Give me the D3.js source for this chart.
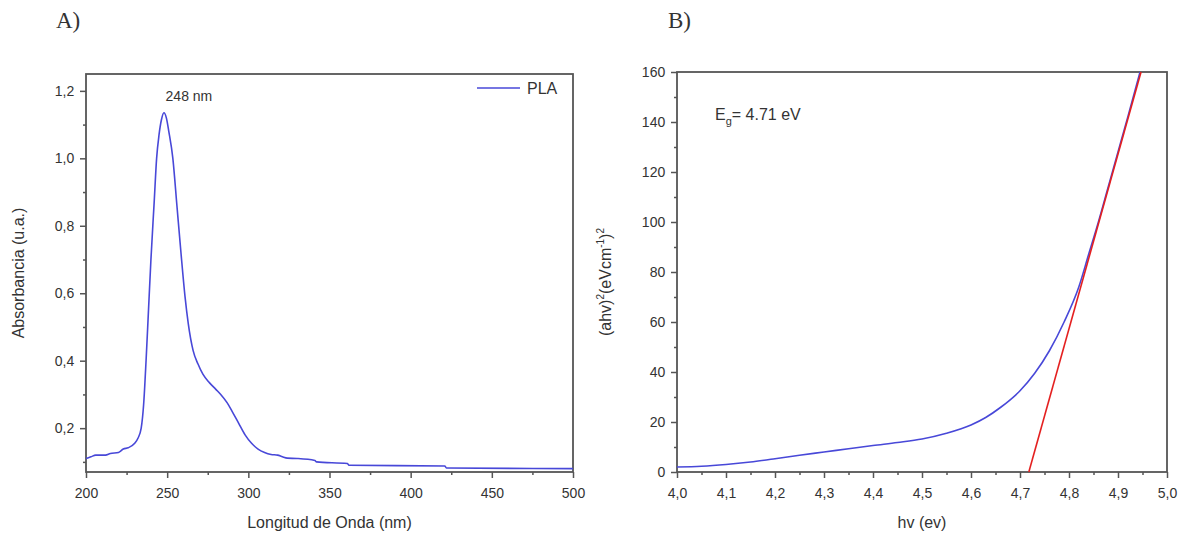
<!DOCTYPE html>
<html>
<head>
<meta charset="utf-8">
<script src="https://cdn.jsdelivr.net/npm/d3@7"></script>
<style>
  body { margin: 0; background: #fff; }
  svg text { font-family: "Liberation Sans", Arial, sans-serif; fill: #333; }
</style>
</head>
<body>
<div id="chart"></div>
<script>
// Panel A: UV-Vis absorbance of PLA
var wavelength = [200, 203, 206, 212, 215, 220, 223, 226, 230, 232, 234, 235.5, 237, 238.5, 240, 242, 243.5, 245, 246.5, 248, 249.5, 251, 253.5, 256, 258.5, 261, 263, 266, 269, 272, 276, 280, 283, 287, 290, 294, 298, 302, 306, 310, 314, 318, 321, 324, 330, 341, 342, 361, 362, 421, 422, 500];
var absorbance = [0.11, 0.115, 0.12, 0.12, 0.125, 0.128, 0.138, 0.142, 0.155, 0.17, 0.2, 0.27, 0.4, 0.55, 0.7, 0.87, 1.0, 1.07, 1.115, 1.135, 1.12, 1.08, 1.0, 0.86, 0.72, 0.59, 0.51, 0.43, 0.39, 0.36, 0.335, 0.315, 0.3, 0.275, 0.25, 0.215, 0.18, 0.155, 0.138, 0.128, 0.122, 0.12, 0.115, 0.111, 0.11, 0.104, 0.1, 0.095, 0.09, 0.088, 0.082, 0.08];
var xTicksA = [200, 250, 300, 350, 400, 450, 500];
var yTicksA = [0.2, 0.4, 0.6, 0.8, 1.0, 1.2];

// Panel B: Tauc plot
var energy = [4.00, 4.05, 4.10, 4.15, 4.20, 4.25, 4.30, 4.35, 4.40, 4.45, 4.50, 4.55, 4.60, 4.63, 4.66, 4.70, 4.73, 4.76, 4.79, 4.82, 4.84, 4.86, 4.88, 4.90, 4.92, 4.945];
var tauc = [2.0, 2.3, 3.0, 4.0, 5.3, 6.7, 8.0, 9.3, 10.6, 11.8, 13.2, 15.5, 18.8, 21.8, 25.8, 32.5, 39.5, 48.5, 60, 74, 87, 100, 114, 128, 142, 160];
var fitEnergy = [4.718, 4.947];
var fitTauc = [0, 160];
var xTicksB = [4.0, 4.1, 4.2, 4.3, 4.4, 4.5, 4.6, 4.7, 4.8, 4.9, 5.0];
var yTicksB = [0, 20, 40, 60, 80, 100, 120, 140, 160];

var svg = d3.select("#chart").append("svg").attr("width", 1187).attr("height", 537);
var comma = d => d3.format(".1f")(d).replace(".", ",");

function drawAxes(g, x, y, w, h, xTicks, yTicks, xMinor, yMinor, xFmt, yFmt) {
    var axisColor = "#555";
    g.append("rect").attr("width", w).attr("height", h).attr("fill", "none").attr("stroke", axisColor).attr("stroke-width", 1.8);

    var xa = g.append("g").attr("transform", `translate(0,${h})`)
        .call(d3.axisBottom(x).tickValues(xTicks).tickFormat(xFmt).tickSize(6).tickSizeOuter(0));
    var xm = g.append("g").attr("transform", `translate(0,${h})`)
        .call(d3.axisBottom(x).tickValues(xMinor).tickFormat("").tickSize(3).tickSizeOuter(0));
    var ya = g.append("g")
        .call(d3.axisLeft(y).tickValues(yTicks).tickFormat(yFmt).tickSize(6).tickSizeOuter(0));
    var ym = g.append("g")
        .call(d3.axisLeft(y).tickValues(yMinor).tickFormat("").tickSize(3).tickSizeOuter(0));
    [xa, xm, ya, ym].forEach(a => {
        a.select(".domain").remove();
        a.selectAll("line").attr("stroke", axisColor).attr("stroke-width", 1.5);
        a.selectAll("text").attr("font-size", 14).attr("fill", "#3a3a3a").style("font-family", "'Liberation Sans', Arial, sans-serif");
    });
    xa.selectAll("text").attr("dy", "1.2em");
    ya.selectAll("text").attr("dx", "-0.2em");
}

// ---------- Panel A ----------
var mA = {left: 86, top: 74, w: 487, h: 398};
var xA = d3.scaleLinear().domain([200, 500]).range([0, mA.w]);
var yA = d3.scaleLinear().domain([0.07, 1.25]).range([mA.h, 0]);
var gA = svg.append("g").attr("transform", `translate(${mA.left},${mA.top})`);

drawAxes(gA, xA, yA, mA.w, mA.h, xTicksA, yTicksA,
    [225, 275, 325, 375, 425, 475], [0.1, 0.3, 0.5, 0.7, 0.9, 1.1],
    d3.format("d"), comma);

var lineA = d3.line().x((d, i) => xA(wavelength[i])).y(d => yA(d)).curve(d3.curveMonotoneX);
gA.append("path").datum(absorbance).attr("d", lineA).attr("fill", "none").attr("stroke", "#4848d8").attr("stroke-width", 1.6);

gA.append("text").attr("x", xA(248) + 25).attr("y", 27).attr("text-anchor", "middle").attr("font-size", 14).text("248 nm");

gA.append("line").attr("x1", 391).attr("x2", 434).attr("y1", 14).attr("y2", 14).attr("stroke", "#4848d8").attr("stroke-width", 1.6);
gA.append("text").attr("x", 441).attr("y", 20).attr("font-size", 16).text("PLA");

svg.append("text").attr("x", mA.left + mA.w / 2).attr("y", 528).attr("text-anchor", "middle").attr("font-size", 16).text("Longitud de Onda (nm)");
svg.append("text").attr("transform", `translate(24,${mA.top + mA.h / 2}) rotate(-90)`).attr("text-anchor", "middle").attr("font-size", 16).text("Absorbancia (u.a.)");
svg.append("text").attr("x", 56).attr("y", 28).attr("font-size", 23).style("font-family", "'Liberation Serif', 'Times New Roman', serif").attr("fill", "#111").text("A)");

// ---------- Panel B ----------
var mB = {left: 677, top: 72, w: 490, h: 400};
var xB = d3.scaleLinear().domain([4.0, 5.0]).range([0, mB.w]);
var yB = d3.scaleLinear().domain([0, 160]).range([mB.h, 0]);
var gB = svg.append("g").attr("transform", `translate(${mB.left},${mB.top})`);

drawAxes(gB, xB, yB, mB.w, mB.h, xTicksB, yTicksB,
    d3.range(4.05, 5.0, 0.1), d3.range(10, 160, 20),
    comma, d3.format("d"));

var lineB = d3.line().x((d, i) => xB(energy[i])).y(d => yB(d)).curve(d3.curveMonotoneX);
gB.append("path").datum(tauc).attr("d", lineB).attr("fill", "none").attr("stroke", "#4848d8").attr("stroke-width", 1.6);

var fitLine = d3.line().x((d, i) => xB(fitEnergy[i])).y(d => yB(d));
gB.append("path").datum(fitTauc).attr("d", fitLine).attr("fill", "none").attr("stroke", "#e42020").attr("stroke-width", 1.6);

var eg = gB.append("text").attr("x", 38).attr("y", 48).attr("font-size", 16);
eg.append("tspan").text("E");
eg.append("tspan").attr("font-size", 11).attr("dy", 5).text("g");
eg.append("tspan").attr("dy", -5).text("= 4.71 eV");

svg.append("text").attr("x", mB.left + mB.w / 2).attr("y", 528).attr("text-anchor", "middle").attr("font-size", 16).text("hv (ev)");
var yl = svg.append("text").attr("transform", `translate(611,${mB.top + mB.h / 2 + 10}) rotate(-90)`).attr("text-anchor", "middle").attr("font-size", 16);
yl.append("tspan").text("(ahv)");
yl.append("tspan").attr("font-size", 10).attr("dy", -7).text("2");
yl.append("tspan").attr("dy", 7).text("(eVcm");
yl.append("tspan").attr("font-size", 10).attr("dy", -7).text("-1");
yl.append("tspan").attr("dy", 7).text(")");
yl.append("tspan").attr("font-size", 10).attr("dy", -7).text("2");
svg.append("text").attr("x", 668).attr("y", 28).attr("font-size", 23).style("font-family", "'Liberation Serif', 'Times New Roman', serif").attr("fill", "#111").text("B)");
</script>
</body>
</html>
